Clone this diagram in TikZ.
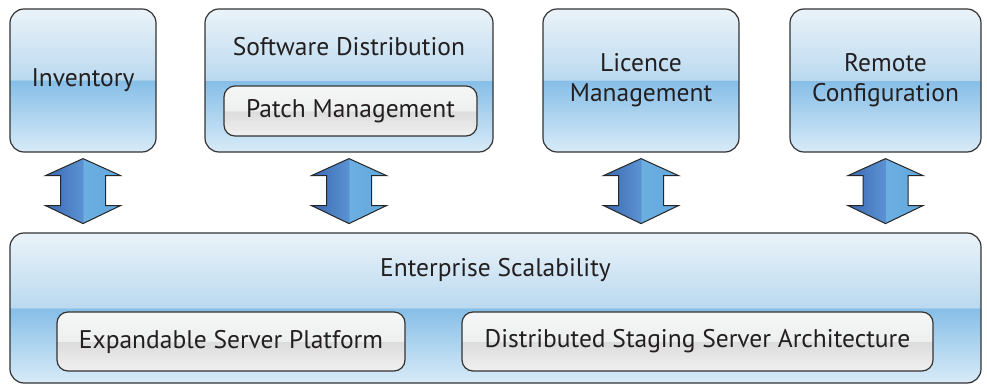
\documentclass[tikz,border=0pt]{standalone}
\usepackage{fontspec}
\setmainfont{PT Sans}
\usetikzlibrary{positioning, calc}

\definecolor{boxtop}{HTML}{EBF3F9}
\definecolor{boxmid}{HTML}{BAD9EF}
\definecolor{boxband}{HTML}{86BEE7}
\definecolor{boxbot}{HTML}{D8EBF8}
\definecolor{greytop}{HTML}{F5F6F6}
\definecolor{greymid}{HTML}{EEEFEF}
\definecolor{greyband}{HTML}{DCDCDC}
\definecolor{greybot}{HTML}{F0F0F0}
\definecolor{arrowdark}{HTML}{3B69B3}
\definecolor{arrowmid}{HTML}{5B92D2}
\definecolor{arrowlight}{HTML}{6CAFE1}
\definecolor{arrowedge}{HTML}{62A8DD}
\definecolor{inktext}{HTML}{231F20}

% glass look: light upper half, sharp band at the middle
\pgfdeclareverticalshading{glassblue}{100bp}{color(0bp)=(boxbot); color(25bp)=(boxbot);
    color(50bp)=(boxband); color(50bp)=(boxmid); color(75bp)=(boxtop); color(100bp)=(boxtop)}
\pgfdeclareverticalshading{glassgrey}{100bp}{color(0bp)=(greybot); color(25bp)=(greybot);
    color(50bp)=(greyband); color(50bp)=(greymid); color(75bp)=(greytop); color(100bp)=(greytop)}
\pgfdeclarehorizontalshading{arrowsplit}{100bp}{color(0bp)=(arrowdark); color(25bp)=(arrowdark);
    color(50bp)=(arrowmid); color(50bp)=(arrowlight); color(75bp)=(arrowedge); color(100bp)=(arrowedge)}

\begin{document}
\begin{tikzpicture}[
    x=1pt, y=1pt,
    node distance=100pt,
    on grid,
    font=\fontsize{25.5}{30}\selectfont,
    every node/.style={text=inktext, align=center},
    glass/.style={draw=black!80, line width=1.2pt, rounded corners=14pt,
        minimum height=143pt, shading=glassblue},
    pill/.style={draw=black!80, line width=1.2pt, rounded corners=11pt,
        shading=glassgrey},
    updown/.style={draw=black!85, line width=1pt, line join=miter,
        shading=arrowsplit}
]
   \useasboundingbox (0,0) rectangle (987,388);

   % Modules on top
   \node[glass, minimum width=146pt] (inv) at (83,307.5) {Inventory};
   \node[glass, minimum width=288pt] (swd) [right=266pt of inv] {};
   \node[glass, minimum width=196pt] (lic) [right=292pt of swd] {Licence\\Management};
   \node[glass, minimum width=191pt] (rem) [right=244.5pt of lic] {Remote\\Configuration};

   \node[pill, minimum width=253pt, minimum height=50pt] (pm) [below=30.5pt of swd, xshift=1.5pt] {Patch Management};
   \node (swdtitle) [above=64pt of pm, xshift=-1.5pt] {Software Distribution};

   % Base layer
   \node[glass, minimum width=971pt, minimum height=150pt] (ent) at (495.5,80) {};
   \node (enttitle) [above=38pt of ent] {Enterprise Scalability};
   \node[pill, minimum width=348pt, minimum height=59pt] (esp) [below left=33.5pt and 264.5pt of ent] {Expandable Server Platform};
   \node[pill, minimum width=471pt, minimum height=59pt] (dsa) [right=466.5pt of esp] {Distributed Staging Server Architecture};

   % Two-way arrows
   \foreach \m in {inv,swd,lic,rem}
     \draw[updown] ($(\m.south)+(0,-6)$) -- ++(-37.5,-17) -- ++(15,0) -- ++(0,-30)
        -- ++(-15,0) -- ++(37.5,-18) -- ++(37.5,18) -- ++(-15,0) -- ++(0,30)
        -- ++(15,0) -- cycle;
\end{tikzpicture}
\end{document}
